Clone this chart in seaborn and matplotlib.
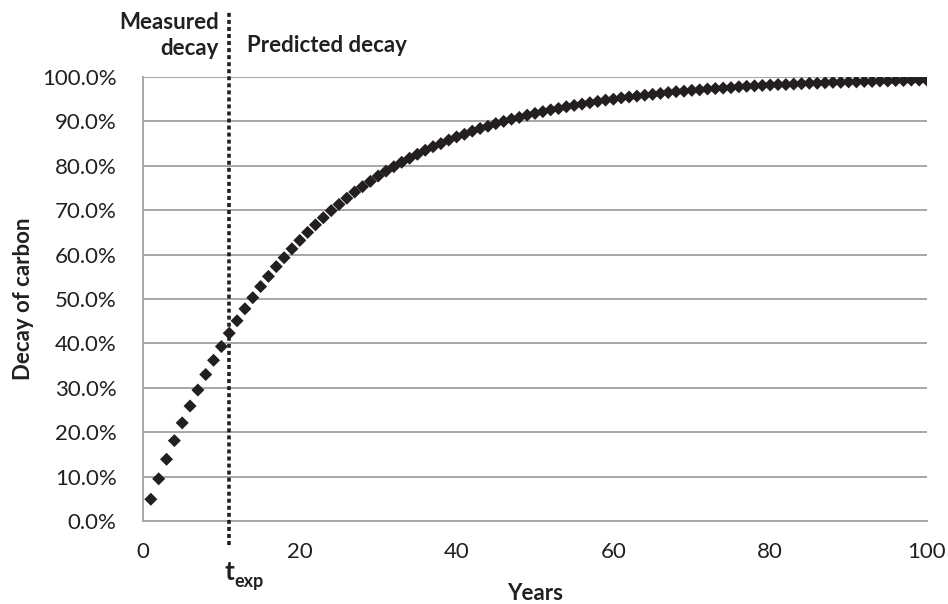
import matplotlib
matplotlib.use("Agg")
import matplotlib.pyplot as plt
import matplotlib.transforms as mtransforms
import seaborn as sns
import pandas as pd

years = list(range(1, 101))
decay = [0.049, 0.095, 0.139, 0.181, 0.221, 0.259, 0.295, 0.330, 0.362, 0.393,
         0.423, 0.451, 0.478, 0.503, 0.528, 0.551, 0.573, 0.593, 0.613, 0.632,
         0.650, 0.667, 0.683, 0.699, 0.713, 0.727, 0.741, 0.753, 0.765, 0.777,
         0.788, 0.798, 0.808, 0.817, 0.826, 0.835, 0.843, 0.850, 0.858, 0.865,
         0.871, 0.878, 0.884, 0.889, 0.895, 0.900, 0.905, 0.909, 0.914, 0.918,
         0.922, 0.926, 0.929, 0.933, 0.936, 0.939, 0.942, 0.945, 0.948, 0.950,
         0.953, 0.955, 0.957, 0.959, 0.961, 0.963, 0.965, 0.967, 0.968, 0.970,
         0.971, 0.973, 0.974, 0.975, 0.976, 0.978, 0.979, 0.980, 0.981, 0.982,
         0.983, 0.983, 0.984, 0.985, 0.986, 0.986, 0.987, 0.988, 0.988, 0.989,
         0.989, 0.990, 0.990, 0.991, 0.991, 0.992, 0.992, 0.993, 0.993, 0.993]
x_ticks = [0, 20, 40, 60, 80, 100]
y_ticks = [i / 10 for i in range(11)]
t_exp = 11
x_label = "Years"
y_label = "Decay of carbon"
left_label = "Measured\ndecay"
right_label = "Predicted decay"

sns.set_theme(style="white")
plt.rcParams['font.family'] = ['Lato', 'DejaVu Sans']

df = pd.DataFrame({"Years": years, "Decay": decay})

fig = plt.figure(figsize=(9.48, 6.04), dpi=100)
ax = fig.add_axes([143 / 948, 1 - 521 / 604, (927 - 143) / 948, (521 - 77) / 604])

grid_c = "#a6a6a6"
ink = "#231f20"
fs = 16

for v in y_ticks[1:]:
    ax.axhline(v, color=grid_c, lw=1.4, zorder=0)

sns.scatterplot(data=df, x="Years", y="Decay", marker="D", s=44,
                color=ink, edgecolor="none", ax=ax, zorder=3, legend=False)

ax.set_xlim(0, 100)
ax.set_ylim(0, 1)
ax.set_xticks(x_ticks)
ax.set_yticks(y_ticks)
ax.set_yticklabels([f"{v*100:.1f}%" for v in y_ticks])
ax.tick_params(axis="both", labelsize=fs, colors=ink, length=7,
               width=1.4, pad=12)
ax.tick_params(axis="x", color=grid_c, pad=8)
ax.tick_params(axis="y", color=grid_c)
for s in ["top", "right"]:
    ax.spines[s].set_visible(False)
for s in ["left", "bottom"]:
    ax.spines[s].set_color(grid_c)
    ax.spines[s].set_linewidth(1.4)

ax.set_xlabel(x_label, fontsize=fs, fontweight="bold", color=ink, labelpad=15)
ax.set_ylabel(y_label, fontsize=fs, fontweight="bold", color=ink, labelpad=6)

# vertical dotted line at t_exp extending beyond the axes
ax.plot([t_exp, t_exp], [-0.054, 1.146], color=ink, lw=2.6,
        linestyle=(0, (1.1, 0.85)), clip_on=False, zorder=4)

trans = mtransforms.blended_transform_factory(ax.transData, fig.transFigure)
ax.text(t_exp - 1.3, 1 - 12 / 604, left_label, transform=trans, ha="right",
        va="top", fontsize=fs, fontweight="bold", color=ink, linespacing=1.3)
ax.text(t_exp + 2.3, 1 - 45 / 604, right_label, transform=trans, ha="left",
        va="center", fontsize=fs, fontweight="bold", color=ink)
ax.text(t_exp + 0.6, 1 - 572 / 604, "t", transform=trans, ha="right",
        va="center", fontsize=19, fontweight="bold", color=ink)
ax.text(t_exp + 0.6, 1 - 581 / 604, "exp", transform=trans, ha="left",
        va="center", fontsize=13, fontweight="bold", color=ink)

fig.savefig("out.png", dpi=100)
